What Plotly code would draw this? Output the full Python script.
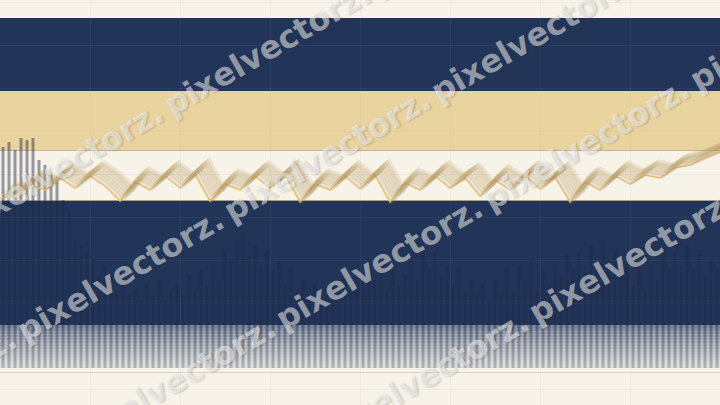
import math
import plotly.graph_objects as go

# ---------------- data ----------------
bar_heights = [221, 226, 218, 230, 228, 230, 208, 203, 193, 188, 168, 158, 128, 123, 118, 110,
               93, 103, 83, 78, 88, 73, 78, 68, 83, 73, 88, 68, 78, 83, 73, 93, 78, 98, 83, 103,
               88, 118, 108, 128, 136, 113, 123, 103, 118, 98, 106, 83, 98, 78, 88, 73, 83, 68,
               78, 88, 73, 98, 83, 103, 93, 108, 88, 103, 78, 98, 83, 93, 108, 88, 113, 98, 118,
               93, 103, 83, 98, 78, 88, 73, 83, 68, 88, 73, 98, 78, 103, 88, 108, 78, 98, 83,
               103, 93, 113, 98, 118, 103, 123, 98, 128, 108, 118, 93, 108, 83, 98, 78, 103, 88,
               113, 98, 118, 103, 123, 98, 113, 93, 108, 98]
bar_categories = list(range(len(bar_heights)))

line_values = [170, 172, 183, 178, 190, 180, 192, 182, 167, 186, 178, 192, 180, 194, 167, 184,
               178, 192, 180, 193, 166, 184, 178, 192, 179, 193, 166, 185, 178, 192, 180, 190,
               172, 188, 178, 192, 179, 191, 166, 186, 178, 192, 184, 193, 190, 200, 203, 210, 216]
line_steps = list(range(len(line_values)))

watermark_text = "pixelvectorz."

# ---------------- styling ----------------
W, H = 720, 405
CREAM = "#F8F3E8"
NAVY = "#223559"
BEIGE = "#E9D39F"
BAR_COLOR = "#1B2948"
Y_RANGE = [-37, 368]
NSTEP = len(line_values) - 1


def py(p):
    """pixel row -> paper fraction"""
    return 1 - p / H


fig = go.Figure()

fig.add_trace(go.Bar(
    x=bar_categories, y=bar_heights, marker=dict(color=BAR_COLOR, line=dict(width=0)),
    opacity=0.45, xaxis="x", yaxis="y", hoverinfo="skip"))

# echo copies of the line (ribbon)
shifts = [(2, 2), (4, 4), (6, 6), (8, 8), (10, 10), (12, 11.5), (14, 13)]
for k, (dx, dy) in enumerate(shifts):
    fig.add_trace(go.Scatter(
        x=line_steps, y=line_values, mode="lines", xaxis=f"x{k + 3}", yaxis=f"y{k + 2}",
        line=dict(color="rgba(180,150,90,0.17)", width=5), hoverinfo="skip"))

fig.add_trace(go.Scatter(
    x=line_steps, y=line_values, mode="lines", xaxis="x2", yaxis="y",
    line=dict(color="rgba(226,192,120,0.9)", width=1.6), hoverinfo="skip"))

shapes = []


def band(p0, p1, color, layer="below", opacity=1):
    shapes.append(dict(type="rect", xref="paper", yref="paper", x0=0, x1=1,
                       y0=py(p1), y1=py(p0), fillcolor=color, line=dict(width=0),
                       layer=layer, opacity=opacity))


def hline(p, color, width=1):
    shapes.append(dict(type="line", xref="paper", yref="paper", x0=0, x1=1,
                       y0=py(p), y1=py(p), line=dict(color=color, width=width), layer="below"))


band(18, 91, NAVY)
band(91, 150, BEIGE)
band(201, 325, NAVY)
hline(150.5, "#BDB4A0")
hline(200.5, "#A8A08A")
hline(372.5, "#D9D3C3")

# gradient zone under bars (325 -> 368)
N = 14
top_c = (130, 140, 160)
bot_c = (208, 209, 210)
for i in range(N):
    t = i / (N - 1)
    c = tuple(int(top_c[j] + (bot_c[j] - top_c[j]) * t) for j in range(3))
    p0 = 325 + (368 - 325) * i / N
    p1 = 325 + (368 - 325) * (i + 1) / N
    band(p0, p1, f"rgb{c}")
    band(p0, p1, CREAM, layer="above", opacity=0.4 * t)

fig.update_layout(shapes=shapes)

# watermark tiles (rows of repeated text)
ang = 30
tn = math.tan(math.radians(ang))
ca, sa = math.cos(math.radians(ang)), math.sin(math.radians(ang))
half = 118
period = 207
row_starts = [(165, 203 - tn * 165), (18, 344 - tn * 18),
              (70, 482 - tn * 70), (116, 622 - tn * 116)]
ann = []
for (sx, sy) in row_starts:
    for k in range(-4, 6):
        x0 = sx + k * period
        y0 = sy - k * period * tn
        cx = x0 + half * ca
        cy = y0 - half * sa
        if -200 < cx < W + 200 and -150 < cy < H + 150:
            ann.append(dict(text=watermark_text, x=cx / W, y=1 - cy / H, xref="paper", yref="paper",
                            xanchor="center", yanchor="middle", showarrow=False, textangle=-ang,
                            font=dict(family="DejaVu Sans", size=32, weight="bold",
                                      color="rgba(255,255,255,0.5)",
                                      shadow="1px 1px 2px rgba(40,40,40,0.45)")))
fig.update_layout(annotations=ann)

grid = "rgba(150,150,150,0.09)"
axis_common = dict(showticklabels=False, zeroline=False, showline=False, ticks="")
layout = dict(
    width=W, height=H, margin=dict(l=0, r=0, t=0, b=0), showlegend=False,
    paper_bgcolor=CREAM, plot_bgcolor=CREAM, bargap=0.5,
    xaxis=dict(range=[-0.5, len(bar_heights) - 0.5], showgrid=False, **axis_common),
    yaxis=dict(range=Y_RANGE, showgrid=True, gridcolor=grid, tick0=65, dtick=43, **axis_common),
    xaxis2=dict(range=[0, NSTEP], overlaying="x", showgrid=True, gridcolor=grid, dtick=6, **axis_common),
)
for k, (dx, dy) in enumerate(shifts):
    layout[f"xaxis{k + 3}"] = dict(range=[-dx / 15, NSTEP - dx / 15], overlaying="x",
                                   showgrid=False, **axis_common)
    layout[f"yaxis{k + 2}"] = dict(range=[Y_RANGE[0] - dy, Y_RANGE[1] - dy], overlaying="y",
                                   showgrid=False, **axis_common)
fig.update_layout(**layout)

fig.write_html("out.html", config={"displayModeBar": False},
               post_script="document.body.style.margin='0';document.body.style.overflow='hidden';")
